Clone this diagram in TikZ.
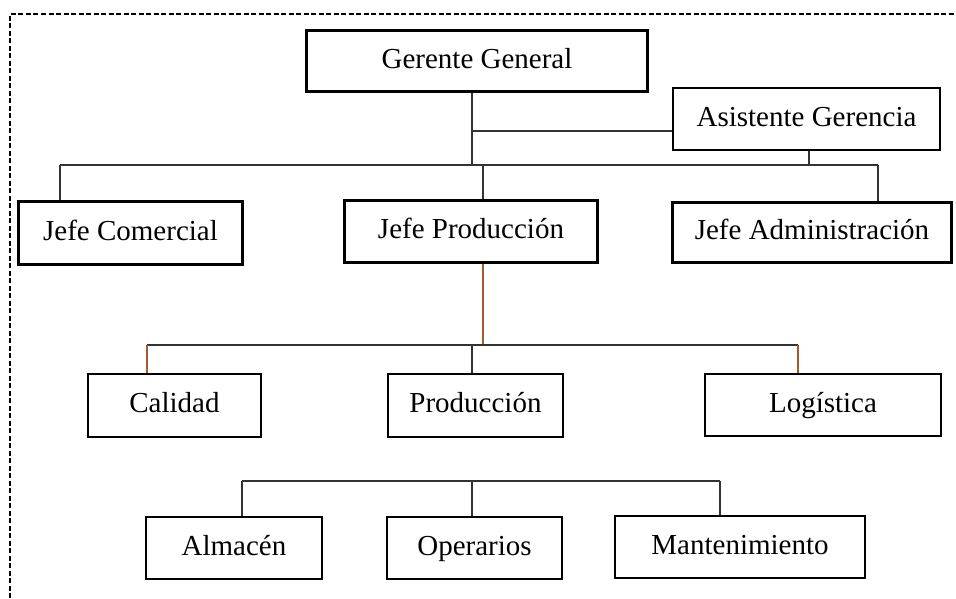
\documentclass[tikz,border=0pt]{standalone}
\usepackage{fontspec}
\setmainfont{Liberation Serif}
\definecolor{OGcafe}{HTML}{A65A2A}
\definecolor{OGlinea}{HTML}{333333}
\newcommand{\textsize}{\fontsize{29}{34}\selectfont}
\tikzset{
  jefe/.style={draw, line width=3pt, inner sep=0pt, text height=20pt, text depth=6pt, font=\textsize},
  area/.style={draw, line width=2pt, inner sep=0pt, text height=20pt, text depth=6pt, font=\textsize},
  rama/.style={OGlinea, line width=1.1pt},
  ramacafe/.style={OGcafe, line width=1.1pt}
}

\begin{document}
\begin{tikzpicture}[x=1pt, y=-1pt]
  \useasboundingbox (0,0) rectangle (956,598);

  % dashed frame
  \draw[line width=1.4pt, dash pattern=on 5pt off 2.5pt] (10,598) |- (956,14);

  % top level
  \node[jefe, minimum width=341pt, minimum height=61pt] (gerente) at (477,61) {Gerente General};
  \node[area, minimum width=267pt, minimum height=62pt] (asistente) at (806.5,119) {Asistente Gerencia};

  \node[jefe, minimum width=224pt, minimum height=63pt] (comercial) at (130.5,233) {Jefe Comercial};
  \node[jefe, minimum width=253pt, minimum height=62pt] (produccion) at (471,231.5) {Jefe Producción};
  \node[jefe, minimum width=279pt, minimum height=60pt] (admin) at (812,232.5) {Jefe Administración};

  % second level
  \node[area, minimum width=173pt, minimum height=63pt] (calidad) at (174.5,405.5) {Calidad};
  \node[area, minimum width=175pt, minimum height=63pt] (prod) at (475.5,405.5) {Producción};
  \node[area, minimum width=236pt, minimum height=62pt] (logistica) at (823,405) {Logística};

  % third level
  \node[area, minimum width=176pt, minimum height=62pt] (almacen) at (234,548) {Almacén};
  \node[area, minimum width=175pt, minimum height=62pt] (operarios) at (474.5,548) {Operarios};
  \node[area, minimum width=250pt, minimum height=62pt] (manten) at (740,547) {Mantenimiento};

  % bus lines
  \coordinate (busA) at (60,165);
  \coordinate (busB) at (878,165);
  \coordinate (subA) at (147,345);
  \coordinate (subB) at (798,345);
  \coordinate (infA) at (242,481);
  \coordinate (infB) at (720,481);

  % connectors of the top level
  \draw[rama] (gerente.south -| 472,0) -- (472,165);
  \draw[rama] (472,131) -- (asistente.west |- 472,131);
  \draw[rama] (asistente.south -| 809,0) -- (809,165);
  \draw[rama] (busA) -- (busB);
  \draw[rama] (busA) -- (busA |- comercial.north);
  \draw[rama] (483,165) -- (produccion.north -| 483,0);
  \draw[rama] (busB) -- (busB |- admin.north);

  % connectors under Jefe Produccion
  \draw[ramacafe] (produccion.south -| 483,0) -- (483,345);
  \draw[rama] (subA) -- (subB);
  \draw[ramacafe] (subA) -- (subA |- calidad.north);
  \draw[rama] (472,345) -- (prod.north -| 472,0);
  \draw[ramacafe] (subB) -- (subB |- logistica.north);

  % lowest level
  \draw[rama] (infA) -- (infB);
  \draw[rama] (infA) -- (infA |- almacen.north);
  \draw[rama] (472,481) -- (operarios.north -| 472,0);
  \draw[rama] (infB) -- (infB |- manten.north);

\end{tikzpicture}
\end{document}
